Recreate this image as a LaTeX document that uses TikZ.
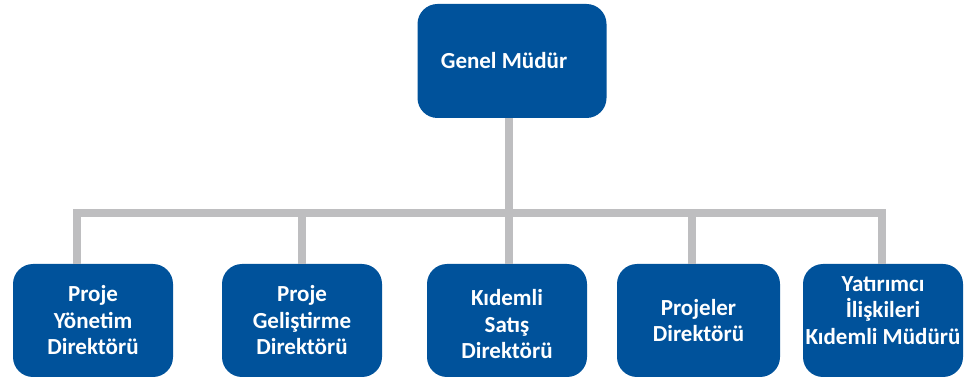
\documentclass[tikz,border=0pt]{standalone}
\usepackage{fontspec}
\setmainfont{Carlito}
\definecolor{boxblue}{RGB}{0,82,155}
\definecolor{linegrey}{RGB}{190,190,192}
\tikzset{
  box/.style={draw=none, fill=boxblue, rounded corners=20pt, minimum width=160pt, minimum height=113pt, inner sep=0pt},
  txt/.style={text=white, font=\fontsize{23}{26.5}\selectfont\bfseries, align=center, inner sep=0pt},
  conn/.style={draw=linegrey, line width=7.5pt, line join=miter}
}
\begin{document}
\begin{tikzpicture}[x=1pt,y=-1pt]
\useasboundingbox (0,0) rectangle (967,379);
\node[box, minimum width=189pt, minimum height=114pt, label={[txt,xshift=-8pt]center:Genel Müdür}] (top) at (512,61) {};
\node[box, label={[txt]center:Proje\\Yönetim\\Direktörü}] (b1) at (93,320.5) {};
\node[box, label={[txt]center:Proje\\Geliştirme\\Direktörü}] (b2) at (302,320.5) {};
\node[box, label={[txt,yshift=-4pt]center:Kıdemli\\Satış\\Direktörü}] (b3) at (507,320.5) {};
\node[box, minimum width=163pt, label={[txt]center:Projeler\\Direktörü}] (b4) at (698.5,320.5) {};
\node[box, label={[txt,yshift=10pt]center:Yatırımcı\\İlişkileri\\Kıdemli Müdürü}] (b5) at (883,320.5) {};
\coordinate (busL) at (77,213);
\coordinate (busR) at (882,213);
\draw[conn] ([xshift=-3pt]top.south) -- ([xshift=2pt]b3.north);
\draw[conn] ([xshift=-16pt]b1.north) -- (busL) -- (busR) -- ([xshift=-1pt]b5.north);
\draw[conn] (b2.north) -- (b2.north |- busL);
\draw[conn] ([xshift=-6.5pt]b4.north) -- ([xshift=-6.5pt]b4.north |- busL);
\end{tikzpicture}
\end{document}
